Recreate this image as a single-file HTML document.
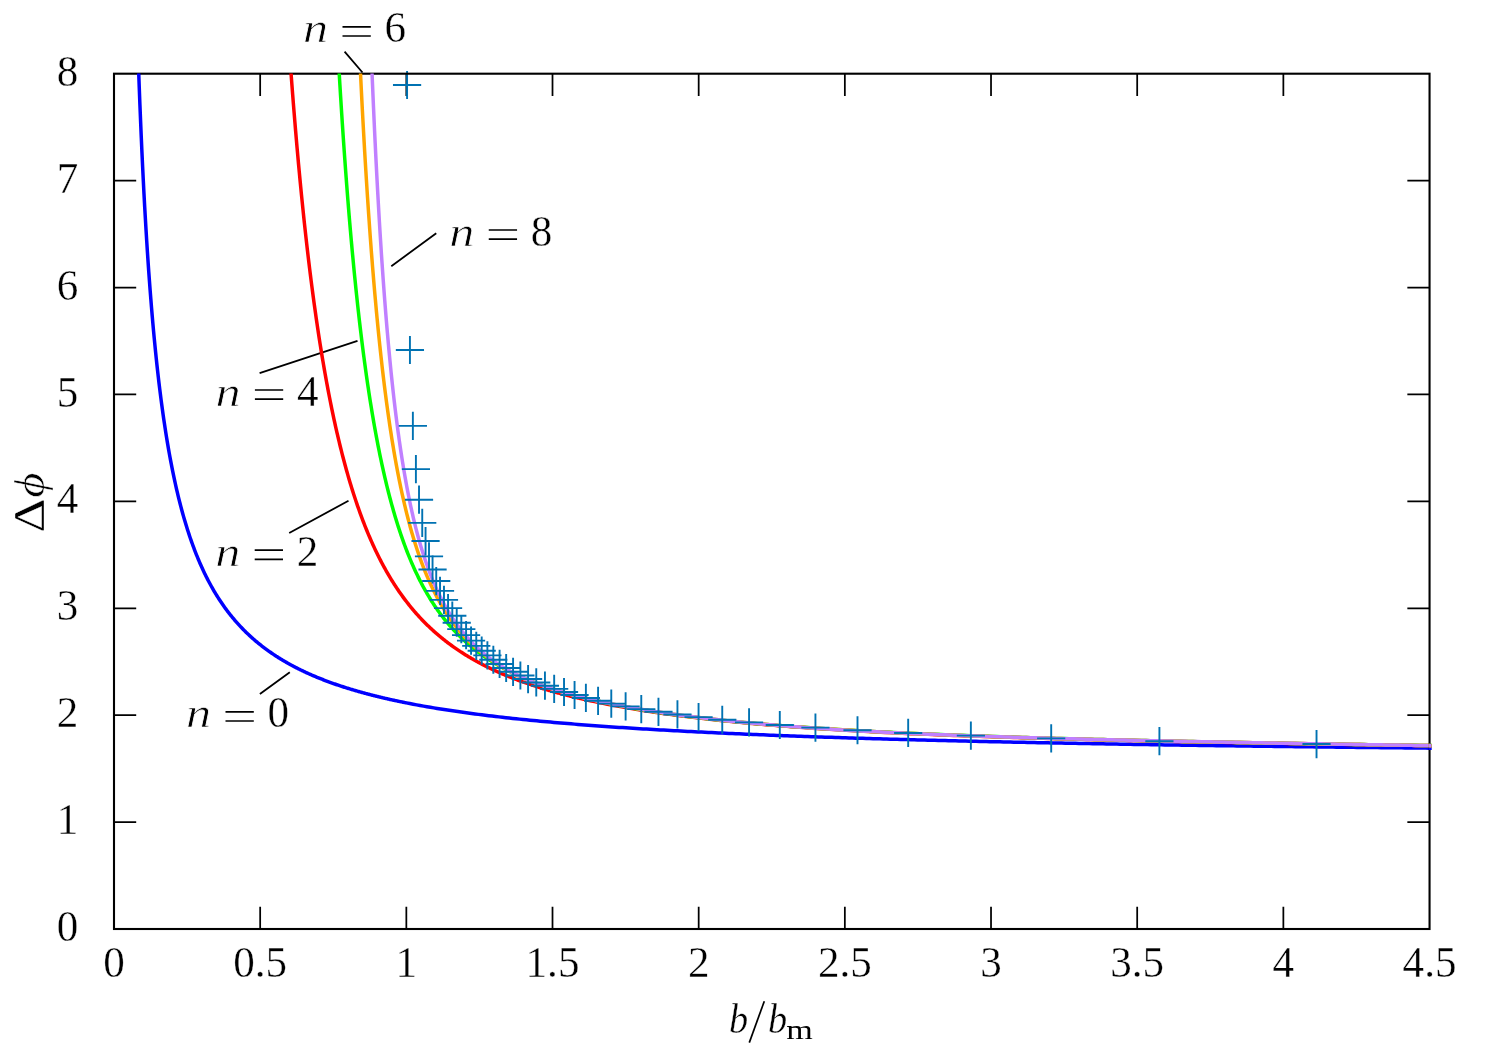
<!DOCTYPE html>
<html><head><meta charset="utf-8"><title>plot</title>
<style>html,body{margin:0;padding:0;background:#fff;}svg{display:block;will-change:transform}text{fill:#000}</style></head>
<body>
<svg width="1496" height="1057" viewBox="0 0 1496 1057">
<rect x="0" y="0" width="1496" height="1057" fill="#fff"/>
<defs><clipPath id="cp"><rect x="114.0" y="73.4" width="1317.45" height="855.5999999999999"/></clipPath>
<clipPath id="cp2"><rect x="114.0" y="73.4" width="1317.45" height="1.5"/><rect x="1428.35" y="73.7" width="3.1" height="855.3"/></clipPath></defs>
<path d="M259.9,693.9L289.8,672.2M289.2,533L348.5,500.75M259.6,373.2L357.5,340.9M344.6,51.7L362.5,72.5M391.3,266.2L436.25,233.25" stroke="#000" stroke-width="1.8" fill="none"/>
<path d="M260.17,929.0v-22.2M260.17,73.7v22.2M406.34,929.0v-22.2M406.34,73.7v22.2M552.51,929.0v-22.2M552.51,73.7v22.2M698.68,929.0v-22.2M698.68,73.7v22.2M844.85,929.0v-22.2M844.85,73.7v22.2M991.02,929.0v-22.2M991.02,73.7v22.2M1137.19,929.0v-22.2M1137.19,73.7v22.2M1283.36,929.0v-22.2M1283.36,73.7v22.2M114.0,822.09h22.2M1429.55,822.09h-22.2M114.0,715.18h22.2M1429.55,715.18h-22.2M114.0,608.27h22.2M1429.55,608.27h-22.2M114.0,501.36h22.2M1429.55,501.36h-22.2M114.0,394.45h22.2M1429.55,394.45h-22.2M114.0,287.54h22.2M1429.55,287.54h-22.2M114.0,180.63h22.2M1429.55,180.63h-22.2" fill="none" stroke="#000" stroke-width="1.75"/>
<g clip-path="url(#cp)"><g id="cv">
<path d="M134.46,-70.28 L135.15,-43.49 L135.83,-18.38 L136.51,5.22 L137.19,27.43 L137.87,48.37 L138.55,68.15 L139.23,86.86 L139.91,104.59 L140.60,121.41 L141.28,137.39 L141.96,152.59 L142.64,167.06 L143.32,180.87 L144.00,194.04 L144.68,206.63 L145.37,218.68 L146.05,230.21 L146.73,241.26 L147.41,251.86 L148.09,262.04 L148.77,271.82 L149.45,281.22 L150.14,290.27 L150.82,298.98 L151.50,307.38 L152.18,315.48 L152.86,323.29 L153.54,330.83 L154.22,338.12 L154.91,345.17 L155.59,351.98 L156.27,358.58 L156.95,364.96 L157.63,371.15 L158.31,377.14 L158.99,382.96 L159.68,388.60 L160.36,394.07 L161.04,399.39 L161.72,404.55 L162.40,409.57 L163.08,414.45 L163.76,419.20 L164.45,423.82 L165.13,428.31 L165.81,432.69 L166.49,436.95 L167.17,441.11 L167.85,445.15 L168.53,449.10 L169.21,452.95 L169.90,456.71 L170.58,460.37 L171.26,463.95 L171.94,467.44 L172.62,470.86 L173.30,474.19 L173.98,477.45 L174.67,480.64 L175.35,483.75 L176.03,486.80 L176.71,489.78 L177.39,492.69 L178.07,495.55 L178.75,498.34 L179.44,501.08 L180.12,503.76 L180.80,506.38 L181.48,508.95 L182.16,511.47 L182.84,513.94 L183.52,516.37 L184.21,518.74 L184.89,521.07 L185.57,523.36 L186.25,525.60 L186.93,527.80 L187.61,529.96 L188.29,532.08 L188.98,534.16 L189.66,536.20 L190.34,538.21 L191.02,540.18 L191.70,542.12 L192.38,544.02 L193.06,545.89 L193.75,547.73 L194.43,549.54 L195.11,551.31 L195.79,553.06 L196.47,554.78 L197.15,556.47 L197.83,558.13 L198.51,559.77 L199.20,561.38 L199.88,562.96 L200.56,564.52 L201.24,566.06 L201.92,567.57 L202.60,569.06 L203.28,570.52 L203.97,571.97 L204.65,573.39 L205.33,574.79 L206.01,576.17 L206.69,577.53 L207.37,578.87 L208.05,580.19 L208.74,581.49 L209.42,582.77 L210.10,584.03 L210.78,585.28 L211.46,586.51 L212.14,587.72 L212.82,588.92 L213.51,590.10 L214.19,591.26 L214.87,592.41 L215.55,593.54 L216.23,594.65 L216.91,595.76 L217.59,596.84 L218.28,597.92 L218.96,598.97 L219.64,600.02 L220.32,601.05 L221.00,602.07 L221.68,603.08 L222.36,604.07 L223.05,605.05 L223.73,606.02 L224.41,606.98 L225.09,607.92 L225.77,608.86 L226.45,609.78 L227.13,610.69 L227.81,611.59 L228.50,612.48 L229.18,613.36 L229.86,614.23 L230.54,615.09 L231.22,615.93 L231.90,616.77 L232.58,617.60 L233.27,618.42 L233.95,619.23 L234.63,620.03 L235.31,620.83 L235.99,621.61 L236.67,622.38 L237.35,623.15 L238.04,623.91 L238.72,624.66 L239.40,625.40 L240.08,626.13 L240.76,626.86 L241.44,627.57 L242.12,628.28 L242.81,628.99 L243.49,629.68 L244.17,630.37 L244.85,631.05 L245.53,631.72 L246.21,632.39 L246.89,633.05 L247.58,633.70 L248.26,634.35 L248.94,634.99 L249.62,635.62 L250.30,636.25 L250.98,636.87 L251.66,637.49 L252.34,638.09 L253.03,638.70 L253.71,639.29 L254.39,639.88 L255.07,640.47 L255.75,641.05 L256.43,641.62 L257.11,642.19 L257.80,642.76 L258.48,643.31 L259.16,643.87 L259.84,644.41 L260.52,644.96 L261.20,645.49 L261.88,646.03 L262.57,646.55 L263.25,647.08 L263.93,647.60 L264.61,648.11 L265.29,648.62 L265.97,649.12 L266.65,649.62 L267.34,650.12 L268.02,650.61 L268.70,651.09 L269.38,651.58 L270.06,652.05 L270.74,652.53 L271.42,653.00 L272.11,653.46 L272.79,653.93 L273.47,654.38 L274.15,654.84 L274.83,655.29 L275.51,655.73 L276.19,656.18 L276.88,656.61 L277.56,657.05 L278.24,657.48 L278.92,657.91 L279.60,658.33 L280.28,658.75 L280.96,659.17 L281.64,659.59 L282.33,660.00 L283.01,660.40 L283.69,660.81 L284.37,661.21 L285.05,661.61 L285.73,662.00 L286.41,662.39 L287.10,662.78 L287.78,663.17 L288.46,663.55 L289.14,663.93 L289.82,664.31 L290.50,664.68 L291.18,665.05 L291.87,665.42 L292.55,665.78 L293.23,666.15 L293.91,666.50 L294.59,666.86 L295.27,667.22 L295.95,667.57 L296.64,667.92 L297.32,668.26 L298.00,668.61 L298.68,668.95 L299.36,669.29 L300.04,669.62 L300.72,669.96 L301.41,670.29 L302.09,670.62 L302.77,670.94 L303.45,671.27 L304.13,671.59 L304.81,671.91 L305.49,672.22 L306.18,672.54 L306.86,672.85 L307.54,673.16 L308.22,673.47 L308.90,673.78 L309.58,674.08 L310.26,674.38 L310.94,674.68 L311.63,674.98 L312.31,675.28 L312.99,675.57 L313.67,675.86 L314.35,676.15 L315.03,676.44 L315.71,676.73 L316.40,677.01 L317.08,677.29 L317.76,677.57 L318.44,677.85 L319.12,678.13 L319.80,678.40 L320.48,678.67 L321.17,678.95 L321.85,679.21 L322.53,679.48 L323.21,679.75 L323.89,680.01 L324.57,680.27 L325.25,680.53 L325.94,680.79 L326.62,681.05 L327.30,681.31 L327.98,681.56 L328.66,681.81 L329.34,682.06 L330.02,682.31 L330.71,682.56 L331.39,682.81 L332.07,683.05 L332.75,683.29 L333.43,683.54 L334.11,683.78 L334.79,684.01 L335.48,684.25 L336.16,684.49 L336.84,684.72 L337.52,684.95 L338.20,685.19 L338.88,685.42 L339.56,685.64 L340.24,685.87 L340.93,686.10 L341.61,686.32 L342.29,686.54 L342.97,686.77 L343.65,686.99 L344.33,687.21 L345.01,687.42 L345.70,687.64 L346.38,687.86 L347.06,688.07 L347.74,688.28 L348.42,688.49 L349.10,688.70 L349.78,688.91 L350.47,689.12 L351.15,689.33 L351.83,689.53 L352.51,689.74 L353.19,689.94 L353.87,690.14 L354.55,690.34 L355.24,690.54 L355.92,690.74 L356.60,690.94 L357.28,691.14 L357.96,691.33 L358.64,691.53 L359.32,691.72 L360.01,691.91 L360.69,692.10 L361.37,692.29 L362.05,692.48 L362.73,692.67 L363.41,692.86 L364.09,693.04 L364.77,693.23 L365.46,693.41 L366.14,693.59 L366.82,693.77 L367.50,693.96 L368.18,694.14 L368.86,694.31 L369.54,694.49 L370.23,694.67 L370.91,694.85 L371.59,695.02 L372.27,695.20 L372.95,695.37 L373.63,695.54 L374.31,695.71 L375.00,695.88 L375.68,696.05 L376.36,696.22 L377.04,696.39 L377.72,696.56 L378.40,696.72 L379.08,696.89 L379.77,697.05 L380.45,697.22 L381.13,697.38 L381.81,697.54 L382.49,697.70 L383.17,697.86 L383.85,698.02 L384.54,698.18 L385.22,698.34 L385.90,698.50 L386.58,698.65 L387.26,698.81 L387.94,698.96 L388.62,699.12 L389.31,699.27 L389.99,699.42 L390.67,699.58 L391.35,699.73 L392.03,699.88 L392.71,700.03 L393.39,700.18 L394.07,700.32 L394.76,700.47 L395.44,700.62 L396.12,700.76 L396.80,700.91 L397.48,701.05 L398.16,701.20 L398.84,701.34 L399.53,701.48 L400.21,701.62 L400.89,701.77 L401.57,701.91 L402.25,702.05 L402.93,702.19 L403.61,702.32 L404.30,702.46 L404.98,702.60 L405.66,702.74 L406.34,702.87 L409.77,703.55 L413.20,704.21 L416.64,704.85 L420.07,705.48 L423.50,706.10 L426.93,706.70 L430.36,707.29 L433.79,707.87 L437.23,708.43 L440.66,708.99 L444.09,709.53 L447.52,710.06 L450.95,710.58 L454.39,711.09 L457.82,711.58 L461.25,712.07 L464.68,712.55 L468.11,713.02 L471.54,713.48 L474.98,713.94 L478.41,714.38 L481.84,714.82 L485.27,715.24 L488.70,715.66 L492.14,716.08 L495.57,716.48 L499.00,716.88 L502.43,717.27 L505.86,717.65 L509.29,718.03 L512.73,718.40 L516.16,718.76 L519.59,719.12 L523.02,719.47 L526.45,719.82 L529.89,720.16 L533.32,720.49 L536.75,720.82 L540.18,721.15 L543.61,721.47 L547.04,721.78 L550.48,722.09 L553.91,722.39 L557.34,722.69 L560.77,722.99 L564.20,723.28 L567.64,723.56 L571.07,723.85 L574.50,724.12 L577.93,724.40 L581.36,724.66 L584.79,724.93 L588.23,725.19 L591.66,725.45 L595.09,725.70 L598.52,725.95 L601.95,726.20 L605.39,726.44 L608.82,726.68 L612.25,726.92 L615.68,727.16 L619.11,727.39 L622.54,727.61 L625.98,727.84 L629.41,728.06 L632.84,728.28 L636.27,728.49 L639.70,728.70 L643.14,728.91 L646.57,729.12 L650.00,729.33 L653.43,729.53 L656.86,729.73 L660.29,729.92 L663.73,730.12 L667.16,730.31 L670.59,730.50 L674.02,730.69 L677.45,730.87 L680.89,731.06 L684.32,731.24 L687.75,731.41 L691.18,731.59 L694.61,731.77 L698.04,731.94 L701.48,732.11 L704.91,732.28 L708.34,732.44 L711.77,732.61 L715.20,732.77 L718.64,732.93 L722.07,733.09 L725.50,733.25 L728.93,733.40 L732.36,733.55 L735.79,733.71 L739.23,733.86 L742.66,734.00 L746.09,734.15 L749.52,734.30 L752.95,734.44 L756.39,734.58 L759.82,734.72 L763.25,734.86 L766.68,735.00 L770.11,735.14 L773.54,735.27 L776.98,735.41 L780.41,735.54 L783.84,735.67 L787.27,735.80 L790.70,735.93 L794.14,736.05 L797.57,736.18 L801.00,736.30 L804.43,736.43 L807.86,736.55 L811.29,736.67 L814.73,736.79 L818.16,736.91 L821.59,737.02 L825.02,737.14 L828.45,737.25 L831.89,737.37 L835.32,737.48 L838.75,737.59 L842.18,737.70 L845.61,737.81 L849.04,737.92 L852.48,738.03 L855.91,738.14 L859.34,738.24 L862.77,738.35 L866.20,738.45 L869.64,738.55 L873.07,738.65 L876.50,738.75 L879.93,738.85 L883.36,738.95 L886.79,739.05 L890.23,739.15 L893.66,739.25 L897.09,739.34 L900.52,739.44 L903.95,739.53 L907.39,739.62 L910.82,739.72 L914.25,739.81 L917.68,739.90 L921.11,739.99 L924.54,740.08 L927.98,740.17 L931.41,740.25 L934.84,740.34 L938.27,740.43 L941.70,740.51 L945.14,740.60 L948.57,740.68 L952.00,740.76 L955.43,740.85 L958.86,740.93 L962.29,741.01 L965.73,741.09 L969.16,741.17 L972.59,741.25 L976.02,741.33 L979.45,741.41 L982.89,741.49 L986.32,741.56 L989.75,741.64 L993.18,741.72 L996.61,741.79 L1000.04,741.87 L1003.48,741.94 L1006.91,742.01 L1010.34,742.09 L1013.77,742.16 L1017.20,742.23 L1020.64,742.30 L1024.07,742.37 L1027.50,742.44 L1030.93,742.51 L1034.36,742.58 L1037.79,742.65 L1041.23,742.72 L1044.66,742.79 L1048.09,742.85 L1051.52,742.92 L1054.95,742.99 L1058.39,743.05 L1061.82,743.12 L1065.25,743.18 L1068.68,743.25 L1072.11,743.31 L1075.54,743.37 L1078.98,743.44 L1082.41,743.50 L1085.84,743.56 L1089.27,743.62 L1092.70,743.68 L1096.14,743.74 L1099.57,743.80 L1103.00,743.86 L1106.43,743.92 L1109.86,743.98 L1113.29,744.04 L1116.73,744.10 L1120.16,744.16 L1123.59,744.22 L1127.02,744.27 L1130.45,744.33 L1133.89,744.39 L1137.32,744.44 L1140.75,744.50 L1144.18,744.55 L1147.61,744.61 L1151.04,744.66 L1154.48,744.72 L1157.91,744.77 L1161.34,744.82 L1164.77,744.88 L1168.20,744.93 L1171.64,744.98 L1175.07,745.03 L1178.50,745.08 L1181.93,745.14 L1185.36,745.19 L1188.79,745.24 L1192.23,745.29 L1195.66,745.34 L1199.09,745.39 L1202.52,745.44 L1205.95,745.49 L1209.39,745.54 L1212.82,745.58 L1216.25,745.63 L1219.68,745.68 L1223.11,745.73 L1226.54,745.77 L1229.98,745.82 L1233.41,745.87 L1236.84,745.91 L1240.27,745.96 L1243.70,746.01 L1247.14,746.05 L1250.57,746.10 L1254.00,746.14 L1257.43,746.19 L1260.86,746.23 L1264.29,746.28 L1267.73,746.32 L1271.16,746.36 L1274.59,746.41 L1278.02,746.45 L1281.45,746.49 L1284.89,746.54 L1288.32,746.58 L1291.75,746.62 L1295.18,746.66 L1298.61,746.70 L1302.04,746.75 L1305.48,746.79 L1308.91,746.83 L1312.34,746.87 L1315.77,746.91 L1319.20,746.95 L1322.64,746.99 L1326.07,747.03 L1329.50,747.07 L1332.93,747.11 L1336.36,747.15 L1339.79,747.19 L1343.23,747.23 L1346.66,747.26 L1350.09,747.30 L1353.52,747.34 L1356.95,747.38 L1360.39,747.42 L1363.82,747.45 L1367.25,747.49 L1370.68,747.53 L1374.11,747.57 L1377.54,747.60 L1380.98,747.64 L1384.41,747.67 L1387.84,747.71 L1391.27,747.75 L1394.70,747.78 L1398.14,747.82 L1401.57,747.85 L1405.00,747.89 L1408.43,747.92 L1411.86,747.96 L1415.29,747.99 L1418.73,748.03 L1422.16,748.06 L1425.59,748.10 L1429.02,748.13 L1432.45,748.16" fill="none" stroke="#0000ff" stroke-width="3.5" stroke-linejoin="round"/>
<path d="M287.49,22.98 L288.23,33.86 L288.97,44.51 L289.70,54.93 L290.44,65.12 L291.18,75.10 L291.92,84.87 L292.65,94.44 L293.39,103.81 L294.13,112.98 L294.87,121.96 L295.60,130.76 L296.34,139.39 L297.08,147.83 L297.82,156.11 L298.55,164.22 L299.29,172.17 L300.03,179.96 L300.77,187.60 L301.50,195.09 L302.24,202.44 L302.98,209.64 L303.72,216.70 L304.45,223.63 L305.19,230.42 L305.93,237.09 L306.67,243.63 L307.40,250.05 L308.14,256.35 L308.88,262.53 L309.62,268.59 L310.35,274.55 L311.09,280.40 L311.83,286.14 L312.57,291.77 L313.30,297.31 L314.04,302.74 L314.78,308.08 L315.52,313.33 L316.25,318.48 L316.99,323.54 L317.73,328.51 L318.47,333.40 L319.20,338.20 L319.94,342.92 L320.68,347.56 L321.42,352.11 L322.15,356.60 L322.89,361.00 L323.63,365.33 L324.37,369.59 L325.10,373.78 L325.84,377.90 L326.58,381.95 L327.32,385.94 L328.05,389.86 L328.79,393.71 L329.53,397.51 L330.27,401.24 L331.00,404.91 L331.74,408.53 L332.48,412.08 L333.22,415.58 L333.95,419.03 L334.69,422.42 L335.43,425.76 L336.17,429.05 L336.90,432.28 L337.64,435.47 L338.38,438.61 L339.12,441.70 L339.85,444.74 L340.59,447.74 L341.33,450.69 L342.06,453.60 L342.80,456.46 L343.54,459.29 L344.28,462.07 L345.01,464.81 L345.75,467.51 L346.49,470.17 L347.23,472.79 L347.96,475.37 L348.70,477.92 L349.44,480.43 L350.18,482.90 L350.91,485.34 L351.65,487.74 L352.39,490.11 L353.13,492.45 L353.86,494.76 L354.60,497.03 L355.34,499.27 L356.08,501.48 L356.81,503.66 L357.55,505.81 L358.29,507.93 L359.03,510.02 L359.76,512.09 L360.50,514.12 L361.24,516.13 L361.98,518.11 L362.71,520.07 L363.45,522.00 L364.19,523.90 L364.93,525.78 L365.66,527.64 L366.40,529.47 L367.14,531.27 L367.88,533.06 L368.61,534.82 L369.35,536.55 L370.09,538.27 L370.83,539.96 L371.56,541.64 L372.30,543.29 L373.04,544.92 L373.78,546.53 L374.51,548.12 L375.25,549.69 L375.99,551.24 L376.73,552.77 L377.46,554.28 L378.20,555.78 L378.94,557.25 L379.68,558.71 L380.41,560.15 L381.15,561.57 L381.89,562.98 L382.63,564.37 L383.36,565.74 L384.10,567.10 L384.84,568.44 L385.58,569.76 L386.31,571.07 L387.05,572.36 L387.79,573.64 L388.53,574.90 L389.26,576.15 L390.00,577.39 L390.74,578.61 L391.48,579.81 L392.21,581.01 L392.95,582.19 L393.69,583.35 L394.43,584.50 L395.16,585.64 L395.90,586.77 L396.64,587.88 L397.38,588.99 L398.11,590.08 L398.85,591.15 L399.59,592.22 L400.33,593.27 L401.06,594.31 L401.80,595.35 L402.54,596.36 L403.28,597.37 L404.01,598.37 L404.75,599.36 L405.49,600.33 L406.23,601.30 L406.96,602.26 L407.70,603.20 L408.44,604.14 L409.18,605.06 L409.91,605.98 L410.65,606.89 L411.39,607.78 L412.13,608.67 L412.86,609.55 L413.60,610.42 L414.34,611.28 L415.07,612.13 L415.81,612.98 L416.55,613.81 L417.29,614.64 L418.02,615.46 L418.76,616.27 L419.50,617.07 L420.24,617.86 L420.97,618.65 L421.71,619.43 L422.45,620.20 L423.19,620.96 L423.92,621.72 L424.66,622.46 L425.40,623.21 L426.14,623.94 L426.87,624.67 L427.61,625.39 L428.35,626.10 L429.09,626.81 L429.82,627.51 L430.56,628.20 L431.30,628.89 L432.04,629.57 L432.77,630.24 L433.51,630.91 L434.25,631.57 L434.99,632.22 L435.72,632.87 L436.46,633.52 L437.20,634.15 L437.94,634.79 L438.67,635.41 L439.41,636.03 L440.15,636.65 L440.89,637.26 L441.62,637.86 L442.36,638.46 L443.10,639.05 L443.84,639.64 L444.57,640.22 L445.31,640.80 L446.05,641.37 L446.79,641.94 L447.52,642.51 L448.26,643.06 L449.00,643.62 L449.74,644.16 L450.47,644.71 L451.21,645.25 L451.95,645.78 L452.69,646.31 L453.42,646.84 L454.16,647.36 L454.90,647.88 L455.64,648.39 L456.37,648.90 L457.11,649.40 L457.85,649.90 L458.59,650.40 L459.32,650.89 L460.06,651.37 L460.80,651.86 L461.54,652.34 L462.27,652.81 L463.01,653.29 L463.75,653.75 L464.49,654.22 L465.22,654.68 L465.96,655.14 L466.70,655.59 L467.44,656.04 L468.17,656.49 L468.91,656.93 L469.65,657.37 L470.39,657.80 L471.12,658.24 L471.86,658.67 L472.60,659.09 L473.34,659.51 L474.07,659.93 L474.81,660.35 L475.55,660.76 L476.29,661.17 L477.02,661.58 L477.76,661.98 L478.50,662.38 L479.24,662.78 L479.97,663.18 L480.71,663.57 L481.45,663.96 L482.19,664.34 L482.92,664.73 L483.66,665.11 L484.40,665.48 L485.13,665.86 L485.87,666.23 L486.61,666.60 L487.35,666.97 L488.08,667.33 L488.82,667.69 L489.56,668.05 L490.30,668.41 L491.03,668.76 L491.77,669.11 L492.51,669.46 L493.25,669.81 L493.98,670.15 L494.72,670.49 L495.46,670.83 L496.20,671.17 L496.93,671.50 L497.67,671.83 L498.41,672.16 L499.15,672.49 L499.88,672.82 L500.62,673.14 L501.36,673.46 L502.10,673.78 L502.83,674.10 L503.57,674.41 L504.31,674.72 L505.05,675.03 L505.78,675.34 L506.52,675.65 L507.26,675.95 L508.00,676.25 L508.73,676.55 L509.47,676.85 L510.21,677.15 L510.95,677.44 L511.68,677.73 L512.42,678.02 L513.16,678.31 L513.90,678.60 L514.63,678.88 L515.37,679.16 L516.11,679.45 L516.85,679.73 L517.58,680.00 L518.32,680.28 L519.06,680.55 L519.80,680.82 L520.53,681.09 L521.27,681.36 L522.01,681.63 L522.75,681.90 L523.48,682.16 L524.22,682.42 L524.96,682.68 L525.70,682.94 L526.43,683.20 L527.17,683.45 L527.91,683.71 L528.65,683.96 L529.38,684.21 L530.12,684.46 L530.86,684.71 L531.60,684.96 L532.33,685.20 L533.07,685.44 L533.81,685.69 L534.55,685.93 L535.28,686.17 L536.02,686.40 L536.76,686.64 L537.50,686.88 L538.23,687.11 L538.97,687.34 L539.71,687.57 L540.45,687.80 L541.18,688.03 L541.92,688.26 L542.66,688.48 L543.40,688.71 L544.13,688.93 L544.87,689.15 L545.61,689.37 L546.35,689.59 L547.08,689.81 L547.82,690.03 L548.56,690.24 L549.30,690.46 L550.03,690.67 L550.77,690.88 L551.51,691.09 L552.25,691.30 L552.98,691.51 L553.72,691.72 L554.46,691.92 L555.19,692.13 L555.93,692.33 L556.67,692.54 L557.41,692.74 L558.14,692.94 L558.88,693.14 L559.62,693.34 L560.36,693.53 L561.09,693.73 L561.83,693.93 L562.57,694.12 L563.31,694.31 L564.04,694.50 L564.78,694.70 L565.52,694.89 L566.26,695.07 L566.99,695.26 L567.73,695.45 L568.47,695.64 L569.21,695.82 L569.94,696.01 L570.68,696.19 L571.42,696.37 L572.16,696.55 L572.89,696.73 L573.63,696.91 L574.37,697.09 L575.11,697.27 L575.84,697.44 L576.58,697.62 L577.32,697.80 L578.06,697.97 L578.79,698.14 L579.53,698.31 L580.27,698.49 L581.01,698.66 L581.74,698.83 L586.02,699.79 L590.29,700.73 L594.57,701.65 L598.84,702.54 L603.12,703.40 L607.39,704.24 L611.67,705.06 L615.94,705.86 L620.22,706.64 L624.49,707.40 L628.77,708.14 L633.04,708.86 L637.32,709.57 L641.59,710.26 L645.87,710.93 L650.14,711.58 L654.42,712.22 L658.69,712.85 L662.97,713.46 L667.24,714.05 L671.52,714.63 L675.79,715.20 L680.07,715.76 L684.34,716.30 L688.62,716.83 L692.89,717.35 L697.17,717.86 L701.44,718.35 L705.72,718.84 L709.99,719.31 L714.27,719.78 L718.54,720.23 L722.82,720.68 L727.09,721.11 L731.37,721.54 L735.64,721.96 L739.92,722.37 L744.19,722.77 L748.47,723.16 L752.74,723.54 L757.02,723.92 L761.29,724.29 L765.57,724.65 L769.84,725.00 L774.12,725.35 L778.39,725.69 L782.67,726.03 L786.94,726.35 L791.22,726.67 L795.49,726.99 L799.77,727.30 L804.04,727.60 L808.31,727.90 L812.59,728.19 L816.86,728.48 L821.14,728.76 L825.41,729.03 L829.69,729.30 L833.96,729.57 L838.24,729.83 L842.51,730.09 L846.79,730.34 L851.06,730.59 L855.34,730.83 L859.61,731.07 L863.89,731.30 L868.16,731.53 L872.44,731.76 L876.71,731.98 L880.99,732.20 L885.26,732.41 L889.54,732.62 L893.81,732.83 L898.09,733.04 L902.36,733.24 L906.64,733.43 L910.91,733.63 L915.19,733.82 L919.46,734.01 L923.74,734.19 L928.01,734.37 L932.29,734.55 L936.56,734.72 L940.84,734.90 L945.11,735.07 L949.39,735.23 L953.66,735.40 L957.94,735.56 L962.21,735.72 L966.49,735.88 L970.76,736.03 L975.04,736.18 L979.31,736.33 L983.59,736.48 L987.86,736.62 L992.14,736.77 L996.41,736.91 L1000.69,737.04 L1004.96,737.18 L1009.24,737.31 L1013.51,737.45 L1017.79,737.58 L1022.06,737.71 L1026.34,737.83 L1030.61,737.96 L1034.89,738.08 L1039.16,738.20 L1043.44,738.32 L1047.71,738.44 L1051.99,738.55 L1056.26,738.67 L1060.54,738.78 L1064.81,738.90 L1069.09,739.01 L1073.36,739.12 L1077.63,739.22 L1081.91,739.33 L1086.18,739.44 L1090.46,739.54 L1094.73,739.64 L1099.01,739.74 L1103.28,739.85 L1107.56,739.94 L1111.83,740.04 L1116.11,740.14 L1120.38,740.24 L1124.66,740.33 L1128.93,740.43 L1133.21,740.52 L1137.48,740.61 L1141.76,740.71 L1146.03,740.80 L1150.31,740.89 L1154.58,740.98 L1158.86,741.06 L1163.13,741.15 L1167.41,741.24 L1171.68,741.33 L1175.96,741.41 L1180.23,741.50 L1184.51,741.58 L1188.78,741.66 L1193.06,741.75 L1197.33,741.83 L1201.61,741.91 L1205.88,741.99 L1210.16,742.07 L1214.43,742.15 L1218.71,742.23 L1222.98,742.31 L1227.26,742.38 L1231.53,742.46 L1235.81,742.54 L1240.08,742.61 L1244.36,742.69 L1248.63,742.77 L1252.91,742.84 L1257.18,742.91 L1261.46,742.99 L1265.73,743.06 L1270.01,743.13 L1274.28,743.21 L1278.56,743.28 L1282.83,743.35 L1287.11,743.42 L1291.38,743.49 L1295.66,743.56 L1299.93,743.63 L1304.21,743.70 L1308.48,743.77 L1312.76,743.84 L1317.03,743.91 L1321.31,743.98 L1325.58,744.05 L1329.86,744.11 L1334.13,744.18 L1338.41,744.25 L1342.68,744.31 L1346.95,744.38 L1351.23,744.45 L1355.50,744.51 L1359.78,744.58 L1364.05,744.64 L1368.33,744.71 L1372.60,744.77 L1376.88,744.84 L1381.15,744.90 L1385.43,744.96 L1389.70,745.03 L1393.98,745.09 L1398.25,745.15 L1402.53,745.22 L1406.80,745.28 L1411.08,745.34 L1415.35,745.40 L1419.63,745.46 L1423.90,745.53 L1428.18,745.59 L1432.45,745.65" fill="none" stroke="#ff0000" stroke-width="3.5" stroke-linejoin="round"/>
<path d="M335.59,7.65 L336.21,19.47 L336.83,31.02 L337.44,42.31 L338.06,53.35 L338.68,64.14 L339.29,74.69 L339.91,85.02 L340.53,95.11 L341.14,104.98 L341.76,114.64 L342.38,124.09 L342.99,133.34 L343.61,142.39 L344.23,151.25 L344.85,159.92 L345.46,168.41 L346.08,176.72 L346.70,184.86 L347.31,192.83 L347.93,200.64 L348.55,208.29 L349.16,215.78 L349.78,223.12 L350.40,230.31 L351.01,237.36 L351.63,244.27 L352.25,251.04 L352.87,257.67 L353.48,264.18 L354.10,270.56 L354.72,276.81 L355.33,282.95 L355.95,288.96 L356.57,294.86 L357.18,300.65 L357.80,306.33 L358.42,311.90 L359.03,317.37 L359.65,322.73 L360.27,328.00 L360.89,333.16 L361.50,338.24 L362.12,343.22 L362.74,348.11 L363.35,352.91 L363.97,357.62 L364.59,362.25 L365.20,366.79 L365.82,371.26 L366.44,375.65 L367.05,379.95 L367.67,384.19 L368.29,388.35 L368.91,392.44 L369.52,396.45 L370.14,400.40 L370.76,404.28 L371.37,408.09 L371.99,411.84 L372.61,415.53 L373.22,419.15 L373.84,422.72 L374.46,426.22 L375.07,429.67 L375.69,433.06 L376.31,436.39 L376.93,439.67 L377.54,442.90 L378.16,446.07 L378.78,449.19 L379.39,452.26 L380.01,455.29 L380.63,458.26 L381.24,461.19 L381.86,464.07 L382.48,466.91 L383.09,469.70 L383.71,472.45 L384.33,475.16 L384.95,477.83 L385.56,480.45 L386.18,483.03 L386.80,485.58 L387.41,488.08 L388.03,490.55 L388.65,492.98 L389.26,495.38 L389.88,497.74 L390.50,500.06 L391.11,502.36 L391.73,504.61 L392.35,506.84 L392.97,509.03 L393.58,511.19 L394.20,513.32 L394.82,515.41 L395.43,517.48 L396.05,519.52 L396.67,521.53 L397.28,523.51 L397.90,525.47 L398.52,527.39 L399.13,529.29 L399.75,531.16 L400.37,533.01 L400.99,534.83 L401.60,536.63 L402.22,538.40 L402.84,540.15 L403.45,541.88 L404.07,543.58 L404.69,545.26 L405.30,546.91 L405.92,548.55 L406.54,550.16 L407.15,551.75 L407.77,553.32 L408.39,554.87 L409.01,556.40 L409.62,557.91 L410.24,559.40 L410.86,560.87 L411.47,562.32 L412.09,563.75 L412.71,565.17 L413.32,566.57 L413.94,567.95 L414.56,569.31 L415.17,570.65 L415.79,571.98 L416.41,573.29 L417.03,574.59 L417.64,575.87 L418.26,577.13 L418.88,578.38 L419.49,579.62 L420.11,580.84 L420.73,582.04 L421.34,583.23 L421.96,584.40 L422.58,585.56 L423.19,586.71 L423.81,587.85 L424.43,588.97 L425.05,590.07 L425.66,591.17 L426.28,592.25 L426.90,593.32 L427.51,594.37 L428.13,595.42 L428.75,596.45 L429.36,597.47 L429.98,598.48 L430.60,599.48 L431.21,600.46 L431.83,601.44 L432.45,602.40 L433.07,603.36 L433.68,604.30 L434.30,605.23 L434.92,606.15 L435.53,607.07 L436.15,607.97 L436.77,608.86 L437.38,609.74 L438.00,610.62 L438.62,611.48 L439.23,612.33 L439.85,613.18 L440.47,614.01 L441.09,614.84 L441.70,615.66 L442.32,616.47 L442.94,617.27 L443.55,618.06 L444.17,618.85 L444.79,619.62 L445.40,620.39 L446.02,621.15 L446.64,621.91 L447.25,622.65 L447.87,623.39 L448.49,624.12 L449.11,624.84 L449.72,625.55 L450.34,626.26 L450.96,626.96 L451.57,627.66 L452.19,628.34 L452.81,629.02 L453.42,629.70 L454.04,630.36 L454.66,631.02 L455.27,631.68 L455.89,632.33 L456.51,632.97 L457.13,633.60 L457.74,634.23 L458.36,634.85 L458.98,635.47 L459.59,636.08 L460.21,636.69 L460.83,637.29 L461.44,637.88 L462.06,638.47 L462.68,639.05 L463.29,639.63 L463.91,640.20 L464.53,640.77 L465.15,641.33 L465.76,641.89 L466.38,642.44 L467.00,642.98 L467.61,643.52 L468.23,644.06 L468.85,644.59 L469.46,645.12 L470.08,645.64 L470.70,646.16 L471.31,646.67 L471.93,647.18 L472.55,647.68 L473.17,648.18 L473.78,648.68 L474.40,649.17 L475.02,649.66 L475.63,650.14 L476.25,650.62 L476.87,651.09 L477.48,651.56 L478.10,652.03 L478.72,652.49 L479.33,652.95 L479.95,653.40 L480.57,653.85 L481.19,654.30 L481.80,654.74 L482.42,655.18 L483.04,655.61 L483.65,656.05 L484.27,656.47 L484.89,656.90 L485.50,657.32 L486.12,657.74 L486.74,658.15 L487.35,658.56 L487.97,658.97 L488.59,659.38 L489.21,659.78 L489.82,660.18 L490.44,660.57 L491.06,660.96 L491.67,661.35 L492.29,661.74 L492.91,662.12 L493.52,662.50 L494.14,662.88 L494.76,663.25 L495.37,663.62 L495.99,663.99 L496.61,664.35 L497.23,664.72 L497.84,665.08 L498.46,665.43 L499.08,665.79 L499.69,666.14 L500.31,666.49 L500.93,666.83 L501.54,667.18 L502.16,667.52 L502.78,667.86 L503.39,668.19 L504.01,668.53 L504.63,668.86 L505.25,669.19 L505.86,669.51 L506.48,669.84 L507.10,670.16 L507.71,670.48 L508.33,670.79 L508.95,671.11 L509.56,671.42 L510.18,671.73 L510.80,672.04 L511.41,672.35 L512.03,672.65 L512.65,672.95 L513.27,673.25 L513.88,673.55 L514.50,673.84 L515.12,674.14 L515.73,674.43 L516.35,674.72 L516.97,675.01 L517.58,675.29 L518.20,675.58 L518.82,675.86 L519.43,676.14 L520.05,676.41 L520.67,676.69 L521.29,676.96 L521.90,677.24 L522.52,677.51 L523.14,677.78 L523.75,678.04 L524.37,678.31 L524.99,678.57 L525.60,678.83 L526.22,679.09 L526.84,679.35 L527.45,679.61 L528.07,679.86 L528.69,680.12 L529.31,680.37 L529.92,680.62 L530.54,680.87 L531.16,681.12 L531.77,681.36 L532.39,681.60 L533.01,681.85 L533.62,682.09 L534.24,682.33 L534.86,682.57 L535.47,682.80 L536.09,683.04 L536.71,683.27 L537.33,683.50 L537.94,683.73 L538.56,683.96 L539.18,684.19 L539.79,684.42 L540.41,684.64 L541.03,684.87 L541.64,685.09 L542.26,685.31 L542.88,685.53 L543.49,685.75 L544.11,685.97 L544.73,686.18 L545.35,686.40 L545.96,686.61 L546.58,686.83 L547.20,687.04 L547.81,687.25 L548.43,687.46 L549.05,687.66 L549.66,687.87 L550.28,688.08 L550.90,688.28 L551.51,688.48 L552.13,688.69 L552.75,688.89 L553.37,689.09 L553.98,689.29 L554.60,689.48 L555.22,689.68 L555.83,689.87 L556.45,690.07 L557.07,690.26 L557.68,690.45 L558.30,690.65 L558.92,690.84 L559.53,691.03 L560.15,691.21 L560.77,691.40 L561.39,691.59 L562.00,691.77 L562.62,691.96 L563.24,692.14 L563.85,692.32 L564.47,692.50 L565.09,692.68 L565.70,692.86 L566.32,693.04 L566.94,693.22 L567.55,693.40 L568.17,693.57 L568.79,693.75 L569.41,693.92 L570.02,694.09 L570.64,694.27 L571.26,694.44 L571.87,694.61 L572.49,694.78 L573.11,694.95 L573.72,695.12 L574.34,695.28 L574.96,695.45 L575.57,695.62 L576.19,695.78 L576.81,695.94 L577.43,696.11 L578.04,696.27 L578.66,696.43 L579.28,696.59 L579.89,696.75 L580.51,696.91 L581.13,697.07 L581.74,697.23 L586.02,698.30 L590.29,699.35 L594.57,700.35 L598.84,701.33 L603.12,702.28 L607.39,703.20 L611.67,704.09 L615.94,704.95 L620.22,705.79 L624.49,706.61 L628.77,707.40 L633.04,708.17 L637.32,708.92 L641.59,709.65 L645.87,710.35 L650.14,711.04 L654.42,711.71 L658.69,712.37 L662.97,713.00 L667.24,713.62 L671.52,714.22 L675.79,714.81 L680.07,715.38 L684.34,715.94 L688.62,716.48 L692.89,717.02 L697.17,717.53 L701.44,718.04 L705.72,718.53 L709.99,719.02 L714.27,719.49 L718.54,719.95 L722.82,720.40 L727.09,720.84 L731.37,721.27 L735.64,721.69 L739.92,722.10 L744.19,722.50 L748.47,722.89 L752.74,723.27 L757.02,723.65 L761.29,724.02 L765.57,724.38 L769.84,724.73 L774.12,725.08 L778.39,725.42 L782.67,725.75 L786.94,726.07 L791.22,726.39 L795.49,726.71 L799.77,727.01 L804.04,727.31 L808.31,727.61 L812.59,727.90 L816.86,728.18 L821.14,728.46 L825.41,728.73 L829.69,729.00 L833.96,729.26 L838.24,729.52 L842.51,729.77 L846.79,730.02 L851.06,730.26 L855.34,730.50 L859.61,730.74 L863.89,730.97 L868.16,731.20 L872.44,731.42 L876.71,731.64 L880.99,731.86 L885.26,732.07 L889.54,732.28 L893.81,732.49 L898.09,732.69 L902.36,732.89 L906.64,733.08 L910.91,733.28 L915.19,733.46 L919.46,733.65 L923.74,733.83 L928.01,734.01 L932.29,734.19 L936.56,734.37 L940.84,734.54 L945.11,734.71 L949.39,734.88 L953.66,735.04 L957.94,735.20 L962.21,735.36 L966.49,735.52 L970.76,735.68 L975.04,735.83 L979.31,735.98 L983.59,736.13 L987.86,736.27 L992.14,736.42 L996.41,736.56 L1000.69,736.70 L1004.96,736.84 L1009.24,736.98 L1013.51,737.11 L1017.79,737.25 L1022.06,737.38 L1026.34,737.51 L1030.61,737.64 L1034.89,737.77 L1039.16,737.89 L1043.44,738.02 L1047.71,738.14 L1051.99,738.26 L1056.26,738.38 L1060.54,738.50 L1064.81,738.61 L1069.09,738.73 L1073.36,738.84 L1077.63,738.96 L1081.91,739.07 L1086.18,739.18 L1090.46,739.29 L1094.73,739.40 L1099.01,739.51 L1103.28,739.61 L1107.56,739.72 L1111.83,739.82 L1116.11,739.92 L1120.38,740.02 L1124.66,740.13 L1128.93,740.22 L1133.21,740.32 L1137.48,740.42 L1141.76,740.52 L1146.03,740.61 L1150.31,740.71 L1154.58,740.80 L1158.86,740.90 L1163.13,740.99 L1167.41,741.08 L1171.68,741.17 L1175.96,741.26 L1180.23,741.35 L1184.51,741.44 L1188.78,741.53 L1193.06,741.61 L1197.33,741.70 L1201.61,741.79 L1205.88,741.87 L1210.16,741.95 L1214.43,742.04 L1218.71,742.12 L1222.98,742.20 L1227.26,742.28 L1231.53,742.36 L1235.81,742.44 L1240.08,742.52 L1244.36,742.60 L1248.63,742.68 L1252.91,742.76 L1257.18,742.84 L1261.46,742.91 L1265.73,742.99 L1270.01,743.06 L1274.28,743.14 L1278.56,743.21 L1282.83,743.29 L1287.11,743.36 L1291.38,743.43 L1295.66,743.51 L1299.93,743.58 L1304.21,743.65 L1308.48,743.72 L1312.76,743.79 L1317.03,743.86 L1321.31,743.93 L1325.58,744.00 L1329.86,744.07 L1334.13,744.14 L1338.41,744.20 L1342.68,744.27 L1346.95,744.34 L1351.23,744.40 L1355.50,744.47 L1359.78,744.54 L1364.05,744.60 L1368.33,744.67 L1372.60,744.73 L1376.88,744.79 L1381.15,744.86 L1385.43,744.92 L1389.70,744.98 L1393.98,745.05 L1398.25,745.11 L1402.53,745.17 L1406.80,745.23 L1411.08,745.29 L1415.35,745.36 L1419.63,745.42 L1423.90,745.48 L1428.18,745.54 L1432.45,745.60" fill="none" stroke="#00ff00" stroke-width="3.5" stroke-linejoin="round"/>
<path d="M357.39,5.02 L357.95,18.07 L358.52,30.79 L359.08,43.20 L359.64,55.30 L360.20,67.10 L360.77,78.61 L361.33,89.85 L361.89,100.81 L362.45,111.51 L363.01,121.95 L363.58,132.15 L364.14,142.10 L364.70,151.82 L365.26,161.32 L365.83,170.59 L366.39,179.65 L366.95,188.51 L367.51,197.16 L368.08,205.61 L368.64,213.87 L369.20,221.95 L369.76,229.85 L370.32,237.57 L370.89,245.13 L371.45,252.51 L372.01,259.74 L372.57,266.80 L373.14,273.72 L373.70,280.49 L374.26,287.11 L374.82,293.59 L375.39,299.94 L375.95,306.15 L376.51,312.23 L377.07,318.19 L377.63,324.02 L378.20,329.73 L378.76,335.33 L379.32,340.81 L379.88,346.18 L380.45,351.44 L381.01,356.60 L381.57,361.65 L382.13,366.61 L382.69,371.47 L383.26,376.23 L383.82,380.90 L384.38,385.47 L384.94,389.96 L385.51,394.37 L386.07,398.69 L386.63,402.92 L387.19,407.08 L387.76,411.16 L388.32,415.16 L388.88,419.09 L389.44,422.95 L390.00,426.73 L390.57,430.45 L391.13,434.09 L391.69,437.67 L392.25,441.19 L392.82,444.64 L393.38,448.04 L393.94,451.37 L394.50,454.64 L395.07,457.85 L395.63,461.01 L396.19,464.12 L396.75,467.17 L397.31,470.16 L397.88,473.11 L398.44,476.00 L399.00,478.85 L399.56,481.65 L400.13,484.40 L400.69,487.10 L401.25,489.76 L401.81,492.38 L402.37,494.95 L402.94,497.48 L403.50,499.97 L404.06,502.42 L404.62,504.83 L405.19,507.20 L405.75,509.53 L406.31,511.83 L406.87,514.09 L407.44,516.31 L408.00,518.50 L408.56,520.65 L409.12,522.77 L409.68,524.86 L410.25,526.92 L410.81,528.94 L411.37,530.93 L411.93,532.90 L412.50,534.83 L413.06,536.73 L413.62,538.61 L414.18,540.46 L414.75,542.28 L415.31,544.07 L415.87,545.84 L416.43,547.58 L416.99,549.29 L417.56,550.99 L418.12,552.65 L418.68,554.30 L419.24,555.92 L419.81,557.51 L420.37,559.09 L420.93,560.64 L421.49,562.17 L422.05,563.68 L422.62,565.17 L423.18,566.63 L423.74,568.08 L424.30,569.51 L424.87,570.92 L425.43,572.31 L425.99,573.68 L426.55,575.03 L427.12,576.36 L427.68,577.68 L428.24,578.98 L428.80,580.26 L429.36,581.53 L429.93,582.78 L430.49,584.01 L431.05,585.23 L431.61,586.43 L432.18,587.61 L432.74,588.78 L433.30,589.94 L433.86,591.08 L434.43,592.21 L434.99,593.32 L435.55,594.42 L436.11,595.51 L436.67,596.58 L437.24,597.64 L437.80,598.69 L438.36,599.72 L438.92,600.74 L439.49,601.75 L440.05,602.75 L440.61,603.73 L441.17,604.71 L441.73,605.67 L442.30,606.62 L442.86,607.56 L443.42,608.49 L443.98,609.40 L444.55,610.31 L445.11,611.21 L445.67,612.09 L446.23,612.97 L446.80,613.84 L447.36,614.69 L447.92,615.54 L448.48,616.38 L449.04,617.20 L449.61,618.02 L450.17,618.83 L450.73,619.63 L451.29,620.42 L451.86,621.21 L452.42,621.98 L452.98,622.75 L453.54,623.50 L454.11,624.25 L454.67,624.99 L455.23,625.73 L455.79,626.45 L456.35,627.17 L456.92,627.88 L457.48,628.58 L458.04,629.27 L458.60,629.96 L459.17,630.64 L459.73,631.31 L460.29,631.98 L460.85,632.64 L461.41,633.29 L461.98,633.93 L462.54,634.57 L463.10,635.20 L463.66,635.83 L464.23,636.45 L464.79,637.06 L465.35,637.67 L465.91,638.27 L466.48,638.86 L467.04,639.45 L467.60,640.03 L468.16,640.61 L468.72,641.18 L469.29,641.74 L469.85,642.30 L470.41,642.86 L470.97,643.41 L471.54,643.95 L472.10,644.49 L472.66,645.02 L473.22,645.55 L473.79,646.07 L474.35,646.59 L474.91,647.10 L475.47,647.61 L476.03,648.11 L476.60,648.61 L477.16,649.10 L477.72,649.59 L478.28,650.08 L478.85,650.56 L479.41,651.03 L479.97,651.50 L480.53,651.97 L481.09,652.43 L481.66,652.89 L482.22,653.34 L482.78,653.79 L483.34,654.24 L483.91,654.68 L484.47,655.12 L485.03,655.55 L485.59,655.98 L486.16,656.41 L486.72,656.83 L487.28,657.25 L487.84,657.67 L488.40,658.08 L488.97,658.48 L489.53,658.89 L490.09,659.29 L490.65,659.69 L491.22,660.08 L491.78,660.47 L492.34,660.86 L492.90,661.24 L493.47,661.62 L494.03,662.00 L494.59,662.37 L495.15,662.74 L495.71,663.11 L496.28,663.48 L496.84,663.84 L497.40,664.20 L497.96,664.55 L498.53,664.91 L499.09,665.26 L499.65,665.60 L500.21,665.95 L500.77,666.29 L501.34,666.63 L501.90,666.96 L502.46,667.30 L503.02,667.63 L503.59,667.96 L504.15,668.28 L504.71,668.60 L505.27,668.92 L505.84,669.24 L506.40,669.56 L506.96,669.87 L507.52,670.18 L508.08,670.49 L508.65,670.79 L509.21,671.10 L509.77,671.40 L510.33,671.70 L510.90,671.99 L511.46,672.29 L512.02,672.58 L512.58,672.87 L513.15,673.16 L513.71,673.44 L514.27,673.72 L514.83,674.01 L515.39,674.28 L515.96,674.56 L516.52,674.84 L517.08,675.11 L517.64,675.38 L518.21,675.65 L518.77,675.92 L519.33,676.18 L519.89,676.44 L520.45,676.71 L521.02,676.97 L521.58,677.22 L522.14,677.48 L522.70,677.73 L523.27,677.99 L523.83,678.24 L524.39,678.49 L524.95,678.73 L525.52,678.98 L526.08,679.22 L526.64,679.46 L527.20,679.70 L527.76,679.94 L528.33,680.18 L528.89,680.41 L529.45,680.65 L530.01,680.88 L530.58,681.11 L531.14,681.34 L531.70,681.57 L532.26,681.80 L532.83,682.02 L533.39,682.24 L533.95,682.47 L534.51,682.69 L535.07,682.90 L535.64,683.12 L536.20,683.34 L536.76,683.55 L537.32,683.77 L537.89,683.98 L538.45,684.19 L539.01,684.40 L539.57,684.61 L540.13,684.81 L540.70,685.02 L541.26,685.22 L541.82,685.43 L542.38,685.63 L542.95,685.83 L543.51,686.03 L544.07,686.23 L544.63,686.42 L545.20,686.62 L545.76,686.81 L546.32,687.01 L546.88,687.20 L547.44,687.39 L548.01,687.58 L548.57,687.77 L549.13,687.96 L549.69,688.14 L550.26,688.33 L550.82,688.51 L551.38,688.70 L551.94,688.88 L552.51,689.06 L553.07,689.24 L553.63,689.42 L554.19,689.60 L554.75,689.78 L555.32,689.95 L555.88,690.13 L556.44,690.30 L557.00,690.48 L557.57,690.65 L558.13,690.82 L558.69,690.99 L559.25,691.16 L559.81,691.33 L560.38,691.50 L560.94,691.66 L561.50,691.83 L562.06,692.00 L562.63,692.16 L563.19,692.32 L563.75,692.49 L564.31,692.65 L564.88,692.81 L565.44,692.97 L566.00,693.13 L566.56,693.29 L567.12,693.44 L567.69,693.60 L568.25,693.76 L568.81,693.91 L569.37,694.07 L569.94,694.22 L570.50,694.37 L571.06,694.53 L571.62,694.68 L572.19,694.83 L572.75,694.98 L573.31,695.13 L573.87,695.28 L574.43,695.42 L575.00,695.57 L575.56,695.72 L576.12,695.86 L576.68,696.01 L577.25,696.15 L577.81,696.30 L578.37,696.44 L578.93,696.58 L579.49,696.72 L580.06,696.86 L580.62,697.00 L581.18,697.14 L581.74,697.28 L586.02,698.32 L590.29,699.32 L594.57,700.30 L598.84,701.24 L603.12,702.16 L607.39,703.05 L611.67,703.91 L615.94,704.76 L620.22,705.58 L624.49,706.38 L628.77,707.16 L633.04,707.92 L637.32,708.66 L641.59,709.38 L645.87,710.09 L650.14,710.77 L654.42,711.44 L658.69,712.10 L662.97,712.73 L667.24,713.36 L671.52,713.96 L675.79,714.56 L680.07,715.14 L684.34,715.70 L688.62,716.25 L692.89,716.79 L697.17,717.32 L701.44,717.84 L705.72,718.34 L709.99,718.83 L714.27,719.31 L718.54,719.78 L722.82,720.24 L727.09,720.69 L731.37,721.13 L735.64,721.56 L739.92,721.99 L744.19,722.40 L748.47,722.80 L752.74,723.20 L757.02,723.58 L761.29,723.96 L765.57,724.33 L769.84,724.70 L774.12,725.05 L778.39,725.40 L782.67,725.74 L786.94,726.08 L791.22,726.40 L795.49,726.73 L799.77,727.04 L804.04,727.35 L808.31,727.65 L812.59,727.95 L816.86,728.24 L821.14,728.52 L825.41,728.80 L829.69,729.08 L833.96,729.35 L838.24,729.61 L842.51,729.87 L846.79,730.12 L851.06,730.37 L855.34,730.62 L859.61,730.86 L863.89,731.09 L868.16,731.33 L872.44,731.55 L876.71,731.78 L880.99,731.99 L885.26,732.21 L889.54,732.42 L893.81,732.63 L898.09,732.83 L902.36,733.03 L906.64,733.23 L910.91,733.42 L915.19,733.61 L919.46,733.80 L923.74,733.98 L928.01,734.16 L932.29,734.34 L936.56,734.51 L940.84,734.68 L945.11,734.85 L949.39,735.02 L953.66,735.18 L957.94,735.34 L962.21,735.49 L966.49,735.65 L970.76,735.80 L975.04,735.95 L979.31,736.10 L983.59,736.24 L987.86,736.39 L992.14,736.53 L996.41,736.67 L1000.69,736.80 L1004.96,736.94 L1009.24,737.07 L1013.51,737.20 L1017.79,737.33 L1022.06,737.46 L1026.34,737.59 L1030.61,737.71 L1034.89,737.83 L1039.16,737.96 L1043.44,738.08 L1047.71,738.19 L1051.99,738.31 L1056.26,738.43 L1060.54,738.54 L1064.81,738.65 L1069.09,738.76 L1073.36,738.87 L1077.63,738.98 L1081.91,739.09 L1086.18,739.20 L1090.46,739.30 L1094.73,739.41 L1099.01,739.51 L1103.28,739.61 L1107.56,739.72 L1111.83,739.82 L1116.11,739.92 L1120.38,740.01 L1124.66,740.11 L1128.93,740.21 L1133.21,740.30 L1137.48,740.40 L1141.76,740.49 L1146.03,740.59 L1150.31,740.68 L1154.58,740.77 L1158.86,740.86 L1163.13,740.95 L1167.41,741.04 L1171.68,741.13 L1175.96,741.22 L1180.23,741.30 L1184.51,741.39 L1188.78,741.48 L1193.06,741.56 L1197.33,741.65 L1201.61,741.73 L1205.88,741.81 L1210.16,741.90 L1214.43,741.98 L1218.71,742.06 L1222.98,742.14 L1227.26,742.22 L1231.53,742.30 L1235.81,742.38 L1240.08,742.46 L1244.36,742.54 L1248.63,742.62 L1252.91,742.70 L1257.18,742.77 L1261.46,742.85 L1265.73,742.93 L1270.01,743.00 L1274.28,743.08 L1278.56,743.15 L1282.83,743.23 L1287.11,743.30 L1291.38,743.38 L1295.66,743.45 L1299.93,743.52 L1304.21,743.60 L1308.48,743.67 L1312.76,743.74 L1317.03,743.81 L1321.31,743.88 L1325.58,743.95 L1329.86,744.03 L1334.13,744.10 L1338.41,744.17 L1342.68,744.24 L1346.95,744.31 L1351.23,744.37 L1355.50,744.44 L1359.78,744.51 L1364.05,744.58 L1368.33,744.65 L1372.60,744.72 L1376.88,744.78 L1381.15,744.85 L1385.43,744.92 L1389.70,744.98 L1393.98,745.05 L1398.25,745.12 L1402.53,745.18 L1406.80,745.25 L1411.08,745.31 L1415.35,745.38 L1419.63,745.44 L1423.90,745.51 L1428.18,745.57 L1432.45,745.64" fill="none" stroke="#ffa500" stroke-width="3.5" stroke-linejoin="round"/>
<path d="M368.74,-14.51 L369.28,0.76 L369.81,15.59 L370.34,29.99 L370.88,43.98 L371.41,57.57 L371.94,70.78 L372.48,83.62 L373.01,96.10 L373.55,108.23 L374.08,120.04 L374.61,131.51 L375.15,142.68 L375.68,153.55 L376.22,164.12 L376.75,174.42 L377.28,184.44 L377.82,194.20 L378.35,203.70 L378.88,212.96 L379.42,221.98 L379.95,230.77 L380.49,239.33 L381.02,247.68 L381.55,255.82 L382.09,263.75 L382.62,271.49 L383.16,279.03 L383.69,286.40 L384.22,293.58 L384.76,300.59 L385.29,307.43 L385.82,314.10 L386.36,320.62 L386.89,326.98 L387.43,333.20 L387.96,339.27 L388.49,345.19 L389.03,350.99 L389.56,356.65 L390.10,362.18 L390.63,367.58 L391.16,372.86 L391.70,378.03 L392.23,383.08 L392.76,388.02 L393.30,392.85 L393.83,397.58 L394.37,402.20 L394.90,406.72 L395.43,411.15 L395.97,415.48 L396.50,419.72 L397.04,423.87 L397.57,427.94 L398.10,431.91 L398.64,435.81 L399.17,439.63 L399.70,443.37 L400.24,447.03 L400.77,450.62 L401.31,454.14 L401.84,457.59 L402.37,460.97 L402.91,464.28 L403.44,467.53 L403.98,470.71 L404.51,473.83 L405.04,476.89 L405.58,479.90 L406.11,482.85 L406.64,485.74 L407.18,488.57 L407.71,491.36 L408.25,494.09 L408.78,496.77 L409.31,499.40 L409.85,501.99 L410.38,504.53 L410.92,507.02 L411.45,509.47 L411.98,511.87 L412.52,514.23 L413.05,516.55 L413.58,518.83 L414.12,521.07 L414.65,523.27 L415.19,525.43 L415.72,527.56 L416.25,529.65 L416.79,531.71 L417.32,533.73 L417.86,535.71 L418.39,537.67 L418.92,539.59 L419.46,541.48 L419.99,543.34 L420.52,545.17 L421.06,546.97 L421.59,548.74 L422.13,550.49 L422.66,552.20 L423.19,553.89 L423.73,555.56 L424.26,557.20 L424.80,558.81 L425.33,560.40 L425.86,561.96 L426.40,563.50 L426.93,565.02 L427.46,566.51 L428.00,567.98 L428.53,569.44 L429.07,570.87 L429.60,572.28 L430.13,573.66 L430.67,575.03 L431.20,576.38 L431.74,577.71 L432.27,579.03 L432.80,580.32 L433.34,581.60 L433.87,582.86 L434.40,584.10 L434.94,585.32 L435.47,586.53 L436.01,587.72 L436.54,588.90 L437.07,590.06 L437.61,591.21 L438.14,592.34 L438.67,593.45 L439.21,594.56 L439.74,595.64 L440.28,596.72 L440.81,597.78 L441.34,598.83 L441.88,599.86 L442.41,600.89 L442.95,601.90 L443.48,602.89 L444.01,603.88 L444.55,604.85 L445.08,605.81 L445.61,606.77 L446.15,607.70 L446.68,608.63 L447.22,609.55 L447.75,610.46 L448.28,611.35 L448.82,612.24 L449.35,613.11 L449.89,613.98 L450.42,614.83 L450.95,615.68 L451.49,616.51 L452.02,617.34 L452.55,618.15 L453.09,618.96 L453.62,619.76 L454.16,620.55 L454.69,621.33 L455.22,622.10 L455.76,622.86 L456.29,623.62 L456.83,624.36 L457.36,625.10 L457.89,625.83 L458.43,626.55 L458.96,627.26 L459.49,627.97 L460.03,628.67 L460.56,629.36 L461.10,630.04 L461.63,630.72 L462.16,631.39 L462.70,632.05 L463.23,632.70 L463.77,633.35 L464.30,633.99 L464.83,634.63 L465.37,635.25 L465.90,635.87 L466.43,636.49 L466.97,637.10 L467.50,637.70 L468.04,638.29 L468.57,638.88 L469.10,639.47 L469.64,640.04 L470.17,640.62 L470.71,641.18 L471.24,641.74 L471.77,642.30 L472.31,642.84 L472.84,643.39 L473.37,643.93 L473.91,644.46 L474.44,644.99 L474.98,645.51 L475.51,646.03 L476.04,646.54 L476.58,647.05 L477.11,647.55 L477.65,648.05 L478.18,648.54 L478.71,649.03 L479.25,649.51 L479.78,649.99 L480.31,650.46 L480.85,650.93 L481.38,651.40 L481.92,651.86 L482.45,652.31 L482.98,652.77 L483.52,653.22 L484.05,653.66 L484.59,654.10 L485.12,654.53 L485.65,654.97 L486.19,655.39 L486.72,655.82 L487.25,656.24 L487.79,656.66 L488.32,657.07 L488.86,657.48 L489.39,657.88 L489.92,658.28 L490.46,658.68 L490.99,659.08 L491.53,659.47 L492.06,659.86 L492.59,660.24 L493.13,660.62 L493.66,661.00 L494.19,661.37 L494.73,661.74 L495.26,662.11 L495.80,662.48 L496.33,662.84 L496.86,663.20 L497.40,663.55 L497.93,663.90 L498.46,664.25 L499.00,664.60 L499.53,664.94 L500.07,665.29 L500.60,665.62 L501.13,665.96 L501.67,666.29 L502.20,666.62 L502.74,666.95 L503.27,667.27 L503.80,667.60 L504.34,667.91 L504.87,668.23 L505.40,668.55 L505.94,668.86 L506.47,669.17 L507.01,669.47 L507.54,669.78 L508.07,670.08 L508.61,670.38 L509.14,670.68 L509.68,670.97 L510.21,671.26 L510.74,671.55 L511.28,671.84 L511.81,672.13 L512.34,672.41 L512.88,672.69 L513.41,672.97 L513.95,673.25 L514.48,673.52 L515.01,673.80 L515.55,674.07 L516.08,674.34 L516.62,674.61 L517.15,674.87 L517.68,675.13 L518.22,675.39 L518.75,675.65 L519.28,675.91 L519.82,676.17 L520.35,676.42 L520.89,676.67 L521.42,676.92 L521.95,677.17 L522.49,677.42 L523.02,677.66 L523.56,677.91 L524.09,678.15 L524.62,678.39 L525.16,678.63 L525.69,678.86 L526.22,679.10 L526.76,679.33 L527.29,679.56 L527.83,679.79 L528.36,680.02 L528.89,680.25 L529.43,680.47 L529.96,680.70 L530.50,680.92 L531.03,681.14 L531.56,681.36 L532.10,681.58 L532.63,681.79 L533.16,682.01 L533.70,682.22 L534.23,682.43 L534.77,682.65 L535.30,682.86 L535.83,683.06 L536.37,683.27 L536.90,683.48 L537.44,683.68 L537.97,683.88 L538.50,684.09 L539.04,684.29 L539.57,684.49 L540.10,684.68 L540.64,684.88 L541.17,685.08 L541.71,685.27 L542.24,685.46 L542.77,685.66 L543.31,685.85 L543.84,686.04 L544.38,686.22 L544.91,686.41 L545.44,686.60 L545.98,686.78 L546.51,686.97 L547.04,687.15 L547.58,687.33 L548.11,687.51 L548.65,687.69 L549.18,687.87 L549.71,688.05 L550.25,688.23 L550.78,688.40 L551.32,688.58 L551.85,688.75 L552.38,688.93 L552.92,689.10 L553.45,689.27 L553.98,689.44 L554.52,689.61 L555.05,689.78 L555.59,689.94 L556.12,690.11 L556.65,690.28 L557.19,690.44 L557.72,690.60 L558.26,690.77 L558.79,690.93 L559.32,691.09 L559.86,691.25 L560.39,691.41 L560.92,691.57 L561.46,691.73 L561.99,691.88 L562.53,692.04 L563.06,692.20 L563.59,692.35 L564.13,692.51 L564.66,692.66 L565.19,692.81 L565.73,692.96 L566.26,693.11 L566.80,693.26 L567.33,693.41 L567.86,693.56 L568.40,693.71 L568.93,693.86 L569.47,694.00 L570.00,694.15 L570.53,694.30 L571.07,694.44 L571.60,694.58 L572.13,694.73 L572.67,694.87 L573.20,695.01 L573.74,695.15 L574.27,695.29 L574.80,695.43 L575.34,695.57 L575.87,695.71 L576.41,695.85 L576.94,695.99 L577.47,696.12 L578.01,696.26 L578.54,696.40 L579.07,696.53 L579.61,696.67 L580.14,696.80 L580.68,696.93 L581.21,697.07 L581.74,697.20 L586.02,698.24 L590.29,699.24 L594.57,700.22 L598.84,701.17 L603.12,702.09 L607.39,702.99 L611.67,703.86 L615.94,704.71 L620.22,705.54 L624.49,706.35 L628.77,707.13 L633.04,707.90 L637.32,708.65 L641.59,709.37 L645.87,710.08 L650.14,710.77 L654.42,711.45 L658.69,712.10 L662.97,712.75 L667.24,713.37 L671.52,713.98 L675.79,714.58 L680.07,715.16 L684.34,715.73 L688.62,716.28 L692.89,716.83 L697.17,717.35 L701.44,717.87 L705.72,718.38 L709.99,718.87 L714.27,719.35 L718.54,719.83 L722.82,720.29 L727.09,720.74 L731.37,721.18 L735.64,721.61 L739.92,722.03 L744.19,722.45 L748.47,722.85 L752.74,723.25 L757.02,723.63 L761.29,724.01 L765.57,724.38 L769.84,724.75 L774.12,725.10 L778.39,725.45 L782.67,725.79 L786.94,726.13 L791.22,726.45 L795.49,726.78 L799.77,727.09 L804.04,727.40 L808.31,727.70 L812.59,728.00 L816.86,728.29 L821.14,728.57 L825.41,728.85 L829.69,729.12 L833.96,729.39 L838.24,729.66 L842.51,729.91 L846.79,730.17 L851.06,730.42 L855.34,730.66 L859.61,730.90 L863.89,731.14 L868.16,731.37 L872.44,731.59 L876.71,731.81 L880.99,732.03 L885.26,732.25 L889.54,732.46 L893.81,732.66 L898.09,732.87 L902.36,733.06 L906.64,733.26 L910.91,733.45 L915.19,733.64 L919.46,733.83 L923.74,734.01 L928.01,734.19 L932.29,734.36 L936.56,734.54 L940.84,734.70 L945.11,734.87 L949.39,735.04 L953.66,735.20 L957.94,735.36 L962.21,735.51 L966.49,735.66 L970.76,735.82 L975.04,735.96 L979.31,736.11 L983.59,736.25 L987.86,736.40 L992.14,736.54 L996.41,736.67 L1000.69,736.81 L1004.96,736.94 L1009.24,737.08 L1013.51,737.21 L1017.79,737.33 L1022.06,737.46 L1026.34,737.59 L1030.61,737.71 L1034.89,737.83 L1039.16,737.95 L1043.44,738.07 L1047.71,738.19 L1051.99,738.30 L1056.26,738.42 L1060.54,738.53 L1064.81,738.64 L1069.09,738.75 L1073.36,738.86 L1077.63,738.97 L1081.91,739.08 L1086.18,739.19 L1090.46,739.29 L1094.73,739.39 L1099.01,739.50 L1103.28,739.60 L1107.56,739.70 L1111.83,739.80 L1116.11,739.90 L1120.38,740.00 L1124.66,740.09 L1128.93,740.19 L1133.21,740.28 L1137.48,740.38 L1141.76,740.47 L1146.03,740.56 L1150.31,740.66 L1154.58,740.75 L1158.86,740.84 L1163.13,740.93 L1167.41,741.02 L1171.68,741.11 L1175.96,741.19 L1180.23,741.28 L1184.51,741.37 L1188.78,741.45 L1193.06,741.54 L1197.33,741.62 L1201.61,741.71 L1205.88,741.79 L1210.16,741.87 L1214.43,741.96 L1218.71,742.04 L1222.98,742.12 L1227.26,742.20 L1231.53,742.28 L1235.81,742.36 L1240.08,742.44 L1244.36,742.52 L1248.63,742.60 L1252.91,742.68 L1257.18,742.75 L1261.46,742.83 L1265.73,742.91 L1270.01,742.98 L1274.28,743.06 L1278.56,743.14 L1282.83,743.21 L1287.11,743.29 L1291.38,743.36 L1295.66,743.43 L1299.93,743.51 L1304.21,743.58 L1308.48,743.66 L1312.76,743.73 L1317.03,743.80 L1321.31,743.87 L1325.58,743.94 L1329.86,744.02 L1334.13,744.09 L1338.41,744.16 L1342.68,744.23 L1346.95,744.30 L1351.23,744.37 L1355.50,744.44 L1359.78,744.51 L1364.05,744.58 L1368.33,744.65 L1372.60,744.72 L1376.88,744.78 L1381.15,744.85 L1385.43,744.92 L1389.70,744.99 L1393.98,745.06 L1398.25,745.12 L1402.53,745.19 L1406.80,745.26 L1411.08,745.32 L1415.35,745.39 L1419.63,745.45 L1423.90,745.52 L1428.18,745.59 L1432.45,745.65" fill="none" stroke="#c080ff" stroke-width="3.5" stroke-linejoin="round"/>
</g></g>
<path d="M1302.43,744.06h28.2M1316.53,729.96v28.2M1145.31,741.21h28.2M1159.41,727.11v28.2M1037.10,738.41h28.2M1051.20,724.31v28.2M956.76,735.66h28.2M970.86,721.56v28.2M894.08,732.95h28.2M908.18,718.85v28.2M843.40,730.27h28.2M857.50,716.17v28.2M801.34,727.62h28.2M815.44,713.52v28.2M765.69,724.98h28.2M779.79,710.88v28.2M734.97,722.36h28.2M749.07,708.26v28.2M708.15,719.73h28.2M722.25,705.63v28.2M684.46,717.10h28.2M698.56,703.00v28.2M663.34,714.46h28.2M677.44,700.36v28.2M644.36,711.80h28.2M658.46,697.70v28.2M627.17,709.11h28.2M641.27,695.01v28.2M611.52,706.38h28.2M625.62,692.28v28.2M597.18,703.62h28.2M611.28,689.52v28.2M583.98,700.80h28.2M598.08,686.70v28.2M571.78,697.93h28.2M585.88,683.83v28.2M560.46,694.99h28.2M574.56,680.89v28.2M549.92,691.98h28.2M564.02,677.88v28.2M540.07,688.89h28.2M554.17,674.79v28.2M530.84,685.71h28.2M544.94,671.61v28.2M522.16,682.43h28.2M536.26,668.33v28.2M513.99,679.03h28.2M528.09,664.93v28.2M506.28,675.50h28.2M520.38,661.40v28.2M498.98,671.82h28.2M513.08,657.72v28.2M492.06,667.99h28.2M506.16,653.89v28.2M485.49,663.97h28.2M499.59,649.87v28.2M479.24,659.76h28.2M493.34,645.66v28.2M473.29,655.35h28.2M487.39,641.25v28.2M467.60,650.72h28.2M481.70,636.62v28.2M462.17,645.84h28.2M476.27,631.74v28.2M456.97,640.66h28.2M471.07,626.56v28.2M451.99,635.12h28.2M466.09,621.02v28.2M447.21,629.16h28.2M461.31,615.06v28.2M442.62,622.72h28.2M456.72,608.62v28.2M438.21,615.72h28.2M452.31,601.62v28.2M433.96,608.12h28.2M448.06,594.02v28.2M429.88,599.84h28.2M443.98,585.74v28.2M425.93,590.83h28.2M440.03,576.73v28.2M422.13,581.03h28.2M436.23,566.93v28.2M418.45,569.45h28.2M432.55,555.35v28.2M414.90,556.35h28.2M429.00,542.25v28.2M411.46,541.05h28.2M425.56,526.95v28.2M408.14,522.85h28.2M422.24,508.75v28.2M404.92,499.70h28.2M419.02,485.60v28.2M401.80,469.10h28.2M415.90,455.00v28.2M398.77,425.90h28.2M412.87,411.80v28.2M395.83,350.00h28.2M409.93,335.90v28.2M392.97,85.00h28.2M407.07,70.90v28.2" fill="none" stroke="#0072b2" stroke-width="1.9"/>
<rect x="114.0" y="73.7" width="1315.55" height="855.30" fill="none" stroke="#000" stroke-width="2.1"/>
<g clip-path="url(#cp2)"><use href="#cv"/></g>
<text transform="translate(114.00,977.40) scale(0.985,1)" font-family="Liberation Serif, serif" font-size="43.8" text-anchor="middle" stroke="#fff" stroke-width="0.35">0</text>
<text transform="translate(260.17,977.40) scale(0.985,1)" font-family="Liberation Serif, serif" font-size="43.8" text-anchor="middle" stroke="#fff" stroke-width="0.35">0.5</text>
<text transform="translate(406.34,977.40) scale(0.985,1)" font-family="Liberation Serif, serif" font-size="43.8" text-anchor="middle" stroke="#fff" stroke-width="0.35">1</text>
<text transform="translate(552.51,977.40) scale(0.985,1)" font-family="Liberation Serif, serif" font-size="43.8" text-anchor="middle" stroke="#fff" stroke-width="0.35">1.5</text>
<text transform="translate(698.68,977.40) scale(0.985,1)" font-family="Liberation Serif, serif" font-size="43.8" text-anchor="middle" stroke="#fff" stroke-width="0.35">2</text>
<text transform="translate(844.85,977.40) scale(0.985,1)" font-family="Liberation Serif, serif" font-size="43.8" text-anchor="middle" stroke="#fff" stroke-width="0.35">2.5</text>
<text transform="translate(991.02,977.40) scale(0.985,1)" font-family="Liberation Serif, serif" font-size="43.8" text-anchor="middle" stroke="#fff" stroke-width="0.35">3</text>
<text transform="translate(1137.19,977.40) scale(0.985,1)" font-family="Liberation Serif, serif" font-size="43.8" text-anchor="middle" stroke="#fff" stroke-width="0.35">3.5</text>
<text transform="translate(1283.36,977.40) scale(0.985,1)" font-family="Liberation Serif, serif" font-size="43.8" text-anchor="middle" stroke="#fff" stroke-width="0.35">4</text>
<text transform="translate(1429.53,977.40) scale(0.985,1)" font-family="Liberation Serif, serif" font-size="43.8" text-anchor="middle" stroke="#fff" stroke-width="0.35">4.5</text>
<text transform="translate(78.20,941.10) scale(0.985,1)" font-family="Liberation Serif, serif" font-size="43.8" text-anchor="end" stroke="#fff" stroke-width="0.35">0</text>
<text transform="translate(78.20,834.19) scale(0.985,1)" font-family="Liberation Serif, serif" font-size="43.8" text-anchor="end" stroke="#fff" stroke-width="0.35">1</text>
<text transform="translate(78.20,727.28) scale(0.985,1)" font-family="Liberation Serif, serif" font-size="43.8" text-anchor="end" stroke="#fff" stroke-width="0.35">2</text>
<text transform="translate(78.20,620.37) scale(0.985,1)" font-family="Liberation Serif, serif" font-size="43.8" text-anchor="end" stroke="#fff" stroke-width="0.35">3</text>
<text transform="translate(78.20,513.46) scale(0.985,1)" font-family="Liberation Serif, serif" font-size="43.8" text-anchor="end" stroke="#fff" stroke-width="0.35">4</text>
<text transform="translate(78.20,406.55) scale(0.985,1)" font-family="Liberation Serif, serif" font-size="43.8" text-anchor="end" stroke="#fff" stroke-width="0.35">5</text>
<text transform="translate(78.20,299.64) scale(0.985,1)" font-family="Liberation Serif, serif" font-size="43.8" text-anchor="end" stroke="#fff" stroke-width="0.35">6</text>
<text transform="translate(78.20,192.73) scale(0.985,1)" font-family="Liberation Serif, serif" font-size="43.8" text-anchor="end" stroke="#fff" stroke-width="0.35">7</text>
<text transform="translate(78.20,85.82) scale(0.985,1)" font-family="Liberation Serif, serif" font-size="43.8" text-anchor="end" stroke="#fff" stroke-width="0.35">8</text>
<text transform="translate(186.10,727.30) scale(1.17,1)" font-family="Liberation Serif, serif" font-size="43" text-anchor="start" font-style="italic" stroke="#fff" stroke-width="0.7">n</text>
<path d="M225.50,711.80h28.3M225.50,721.00h28.3" stroke="#000" stroke-width="1.7" fill="none"/>
<text transform="translate(278.40,727.30) scale(0.985,1)" font-family="Liberation Serif, serif" font-size="43.8" text-anchor="middle" stroke="#fff" stroke-width="0.35">0</text>
<text transform="translate(215.30,565.60) scale(1.17,1)" font-family="Liberation Serif, serif" font-size="43" text-anchor="start" font-style="italic" stroke="#fff" stroke-width="0.7">n</text>
<path d="M254.70,550.10h28.3M254.70,559.30h28.3" stroke="#000" stroke-width="1.7" fill="none"/>
<text transform="translate(307.60,565.60) scale(0.985,1)" font-family="Liberation Serif, serif" font-size="43.8" text-anchor="middle" stroke="#fff" stroke-width="0.35">2</text>
<text transform="translate(215.50,405.50) scale(1.17,1)" font-family="Liberation Serif, serif" font-size="43" text-anchor="start" font-style="italic" stroke="#fff" stroke-width="0.7">n</text>
<path d="M254.90,390.00h28.3M254.90,399.20h28.3" stroke="#000" stroke-width="1.7" fill="none"/>
<text transform="translate(307.80,405.50) scale(0.985,1)" font-family="Liberation Serif, serif" font-size="43.8" text-anchor="middle" stroke="#fff" stroke-width="0.35">4</text>
<text transform="translate(303.10,42.30) scale(1.17,1)" font-family="Liberation Serif, serif" font-size="43" text-anchor="start" font-style="italic" stroke="#fff" stroke-width="0.7">n</text>
<path d="M342.50,26.80h28.3M342.50,36.00h28.3" stroke="#000" stroke-width="1.7" fill="none"/>
<text transform="translate(395.40,42.30) scale(0.985,1)" font-family="Liberation Serif, serif" font-size="43.8" text-anchor="middle" stroke="#fff" stroke-width="0.35">6</text>
<text transform="translate(449.35,245.50) scale(1.17,1)" font-family="Liberation Serif, serif" font-size="43" text-anchor="start" font-style="italic" stroke="#fff" stroke-width="0.7">n</text>
<path d="M488.75,230.00h28.3M488.75,239.20h28.3" stroke="#000" stroke-width="1.7" fill="none"/>
<text transform="translate(541.65,245.50) scale(0.985,1)" font-family="Liberation Serif, serif" font-size="43.8" text-anchor="middle" stroke="#fff" stroke-width="0.35">8</text>
<text transform="translate(728.90,1033.30) scale(0.9,1)" font-family="Liberation Serif, serif" font-size="42.5" text-anchor="start" font-style="italic" stroke="#fff" stroke-width="0.35">b</text>
<path d="M749.3,1042.6L764.3,1001.2" stroke="#000" stroke-width="1.7" fill="none"/>
<text transform="translate(767.90,1033.30) scale(0.9,1)" font-family="Liberation Serif, serif" font-size="42.5" text-anchor="start" font-style="italic" stroke="#fff" stroke-width="0.35">b</text>
<text transform="translate(786.20,1039.00) scale(1.22,1)" font-family="Liberation Serif, serif" font-size="28" text-anchor="start" >m</text>
<g transform="translate(44,532.7) rotate(-90)"><text transform="scale(1.18,1)" x="0" y="0" font-family="Liberation Serif, serif" font-size="45" stroke="#fff" stroke-width="0.3">Δ</text><text transform="translate(35.0,0) scale(1.13,0.96)" x="0" y="0" font-family="Liberation Serif, serif" font-size="43" font-style="italic" stroke="#fff" stroke-width="0.5">ϕ</text></g>
</svg>
</body></html>
